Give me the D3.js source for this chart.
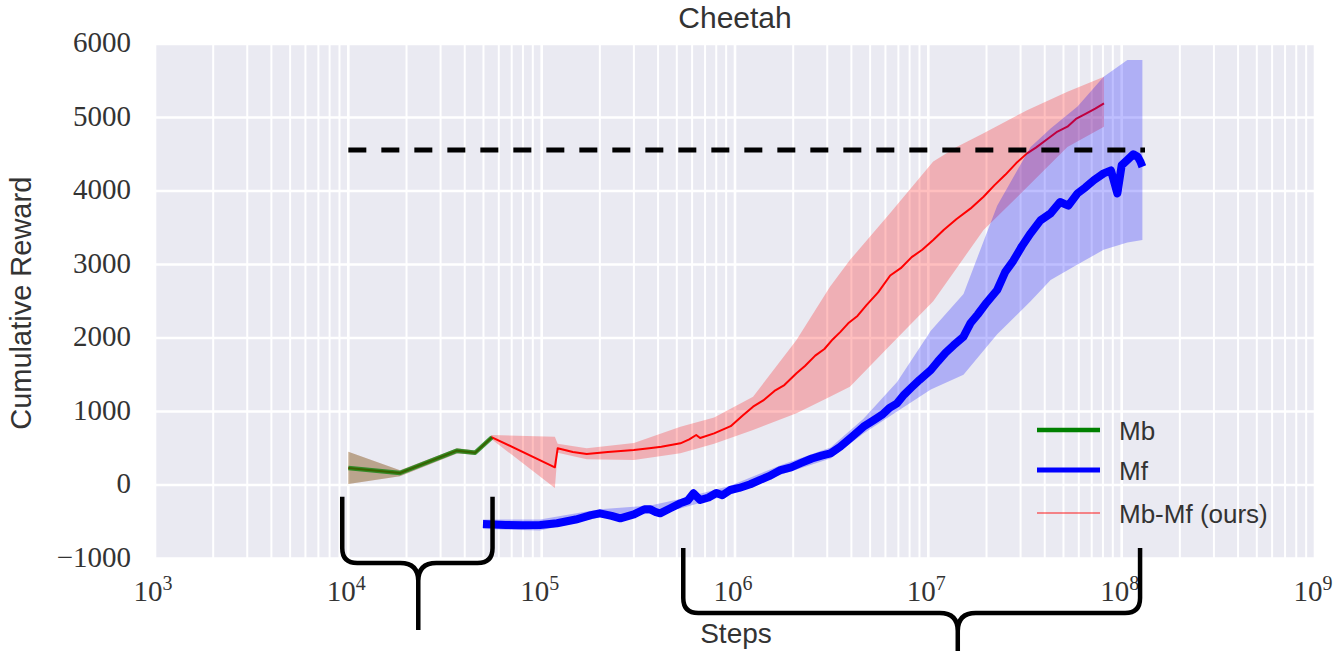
<!DOCTYPE html>
<html>
<head>
<meta charset="utf-8">
<script src="https://cdn.jsdelivr.net/npm/d3@7"></script>
<style>
  body { margin: 0; background: #fff; }
  svg { display: block; }
</style>
</head>
<body>
<div id="chart"></div>
<script>

// ---- data ----
const title = "Cheetah";
const xLabel = "Steps";
const yLabel = "Cumulative Reward";
const yTicks = [-1000, 0, 1000, 2000, 3000, 4000, 5000, 6000];
const xDecades = [3, 4, 5, 6, 7, 8, 9];
const targetReward = 4558;
const targetSpan = [1e4, 1.32e8];

// Mb : [steps, mean]
const mbMean = [[1e4,231],[1.85e4,163],[3.65e4,467],[4.53e4,440],[5.53e4,649]];
// Mb : [steps, low, high]
const mbBand = [[1e4,14,453],[1.85e4,120,200],[3.65e4,430,500],[4.53e4,410,470],[5.53e4,620,680]];

// Mf
const mfMean = [[4.97e4,-531],[6.5e4,-545],[8e4,-548],[9.8e4,-544],[1.2e5,-520],[1.5e5,-470],
  [1.8e5,-410],[2.0e5,-385],[2.3e5,-420],[2.55e5,-453],[3.0e5,-400],[3.4e5,-330],[3.65e5,-331],
  [3.9e5,-370],[4.1e5,-385],[4.6e5,-320],[5.2e5,-250],[5.7e5,-210],[6.1e5,-113],[6.6e5,-204],
  [7.3e5,-170],[8.0e5,-110],[8.6e5,-140],[9.45e5,-68],[1.05e6,-40],[1.2e6,10],[1.35e6,70],
  [1.5e6,120],[1.72e6,204],[1.95e6,240],[2.2e6,300],[2.5e6,360],[2.8e6,400],[3.12e6,431],
  [3.5e6,520],[4.0e6,650],[4.62e6,793],[5.2e6,880],[5.8e6,960],[6.3e6,1050],[6.89e6,1111],
  [7.5e6,1230],[8.2e6,1330],[9.0e6,1430],[1.03e7,1565],[1.12e7,1680],[1.23e7,1800],[1.35e7,1900],
  [1.52e7,2018],[1.65e7,2200],[1.8e7,2320],[2.0e7,2480],[2.27e7,2653],[2.5e7,2900],[2.75e7,3050],
  [3.05e7,3250],[3.38e7,3424],[3.8e7,3600],[4.29e7,3696],[4.8e7,3850],[5.3e7,3800],[5.91e7,3968],
  [6.5e7,4050],[7.2e7,4150],[8.07e7,4240],[8.8e7,4280],[9.5e7,3968],[1.0e8,4350],[1.07e8,4422],
  [1.15e8,4500],[1.21e8,4467],[1.25e8,4400],[1.28e8,4331]];
const mfBand = [[4.97e4,-600,-470],[9.8e4,-620,-470],[2.0e5,-440,-330],[3.65e5,-390,-280],
  [5.2e5,-320,-190],[9.45e5,-130,-10],[1.72e6,140,270],[3.12e6,360,510],[4.62e6,700,900],
  [6.89e6,1000,1400],[1.03e7,1300,2100],[1.52e7,1500,2600],[2.27e7,2050,3800],[3.38e7,2500,4600],
  [4.29e7,2789,4850],[5.91e7,3000,5150],[8.07e7,3200,5555],[1.07e8,3300,5782],[1.28e8,3333,5782]];

// Mb-Mf (ours)
const mbmfMean = [[1e4,231],[1.85e4,163],[3.65e4,467],[4.53e4,440],[5.53e4,649],[1.17e5,241],
  [1.21e5,499],[1.45e5,450],[1.71e5,422],[2.2e5,450],[3.0e5,476],[3.6e5,500],[4.16e5,521],
  [5.22e5,567],[5.8e5,620],[6.3e5,680],[6.6e5,640],[7.8e5,703],[9.5e5,800],[1.1e6,950],
  [1.24e6,1066],[1.4e6,1150],[1.6e6,1280],[1.8e6,1360],[2.08e6,1520],[2.3e6,1620],[2.6e6,1760],
  [2.9e6,1850],[3.2e6,1980],[3.5e6,2080],[3.85e6,2200],[4.3e6,2300],[4.8e6,2450],[5.5e6,2620],
  [6.35e6,2850],[7.2e6,2950],[8.2e6,3100],[9.3e6,3200],[1.06e7,3333],[1.2e7,3470],[1.4e7,3620],
  [1.65e7,3760],[1.93e7,3922],[2.2e7,4080],[2.5e7,4220],[2.85e7,4380],[3.24e7,4512],[3.6e7,4590],
  [4.1e7,4700],[4.6e7,4800],[5.24e7,4875],[5.8e7,4980],[6.5e7,5050],[7.3e7,5120],[8.1e7,5193]];
const mbmfBand = [[1e4,14,453],[1.85e4,120,200],[3.65e4,430,500],[4.53e4,410,470],[5.53e4,620,680],
  [1.17e5,-41,657],[1.21e5,440,560],[1.71e5,350,500],[3.0e5,340,571],[5.22e5,431,793],
  [7.8e5,560,920],[1.24e6,748,1201],[2.08e6,975,1973],[3.1e6,1200,2698],[3.93e6,1338,3061],
  [6.35e6,1900,3700],[1.06e7,2500,4400],[1.4e7,2950,4600],[1.93e7,3469,4785],[3.24e7,4050,5100],
  [5.24e7,4600,5350],[8.1e7,4875,5555]];

// braces under the axis: [left step, cusp step, right step, top, bar, tip] (reward units)
const braces = [
  [9.3e3, 2.3e4, 5.57e4, -160, -1061, -1973],
  [5.4e5, 1.42e7, 1.245e8, -857, -1741, -2300]
];

const legendItems = [
  { label: "Mb", color: "#008000", width: 4.5, opacity: 1 },
  { label: "Mf", color: "#0000ff", width: 5, opacity: 1 },
  { label: "Mb-Mf (ours)", color: "#ff0000", width: 1.5, opacity: 0.6 }
];

// ---- layout ----
const width = 1339, height = 651;
const plotLeft = 155, plotRight = 1315, plotTop = 44, plotBottom = 558.5;
const textColor = "#333";

const svg = d3.select("#chart").append("svg")
  .attr("width", width)
  .attr("height", height)
  .attr("viewBox", `0 0 ${width} ${height}`);

const x = d3.scaleLog().domain([1e3, 1e9]).range([plotLeft, plotRight]);
const y = d3.scaleLinear().domain([-1000, 6000]).range([plotBottom, plotTop]);

svg.append("rect")
  .attr("x", plotLeft).attr("y", plotTop)
  .attr("width", plotRight - plotLeft).attr("height", plotBottom - plotTop)
  .attr("fill", "#eaeaf2");

svg.append("clipPath").attr("id", "plot")
  .append("rect")
  .attr("x", plotLeft).attr("y", plotTop)
  .attr("width", plotRight - plotLeft).attr("height", plotBottom - plotTop);

// grid
const minor = [];
xDecades.slice(0, -1).forEach(function(e) {
  for (let k = 2; k < 10; k++) minor.push(k * Math.pow(10, e));
});
const grid = svg.append("g").attr("stroke", "#fff");
grid.selectAll("line.minor").data(minor).enter().append("line")
  .attr("class", "minor")
  .attr("x1", d => x(d)).attr("x2", d => x(d))
  .attr("y1", plotTop).attr("y2", plotBottom)
  .attr("stroke-width", 2);
grid.selectAll("line.major").data(xDecades).enter().append("line")
  .attr("class", "major")
  .attr("x1", d => x(Math.pow(10, d))).attr("x2", d => x(Math.pow(10, d)))
  .attr("y1", plotTop).attr("y2", plotBottom)
  .attr("stroke-width", 2.6);
grid.selectAll("line.h").data(yTicks).enter().append("line")
  .attr("class", "h")
  .attr("x1", plotLeft).attr("x2", plotRight)
  .attr("y1", d => y(d)).attr("y2", d => y(d))
  .attr("stroke-width", 2.6);

// tick labels
svg.append("g").selectAll("text").data(yTicks).enter().append("text")
  .attr("x", 131)
  .attr("y", d => y(d) - 2)
  .attr("dy", "0.35em")
  .attr("text-anchor", "end")
  .attr("font-family", "Liberation Serif, serif")
  .attr("font-size", 29)
  .attr("fill", textColor)
  .text(d => d < 0 ? "\u2212" + Math.abs(d) : d);

const xt = svg.append("g").selectAll("text").data(xDecades).enter().append("text")
  .attr("x", d => x(Math.pow(10, d)) - 2)
  .attr("y", 601)
  .attr("text-anchor", "middle")
  .attr("font-family", "Liberation Serif, serif")
  .attr("fill", textColor);
xt.append("tspan").attr("font-size", 29).text("10");
xt.append("tspan").attr("font-size", 20).attr("dy", -11).text(d => d);

// axis titles
svg.append("text")
  .attr("x", (plotLeft + plotRight) / 2).attr("y", 28)
  .attr("text-anchor", "middle")
  .attr("font-family", "Liberation Sans, sans-serif")
  .attr("font-size", 30)
  .attr("fill", textColor)
  .text(title);

svg.append("text")
  .attr("x", 736).attr("y", 643)
  .attr("text-anchor", "middle")
  .attr("font-family", "Liberation Sans, sans-serif")
  .attr("font-size", 28)
  .attr("fill", textColor)
  .text(xLabel);

svg.append("text")
  .attr("transform", "translate(31," + ((plotTop + plotBottom) / 2 + 2) + ") rotate(-90)")
  .attr("text-anchor", "middle")
  .attr("font-family", "Liberation Sans, sans-serif")
  .attr("font-size", 29)
  .attr("fill", textColor)
  .text(yLabel);

// series
const plot = svg.append("g").attr("clip-path", "url(#plot)");

const area = d3.area()
  .x(d => x(d[0])).y0(d => y(d[1])).y1(d => y(d[2]));
const line = d3.line()
  .x(d => x(d[0])).y(d => y(d[1]));

plot.append("path").datum(mbmfBand)
  .attr("d", area).attr("fill", "#ff0000").attr("fill-opacity", 0.25);
plot.append("path").datum(mbmfMean)
  .attr("d", line).attr("fill", "none")
  .attr("stroke", "#ff0000").attr("stroke-width", 2).attr("stroke-linejoin", "round");

plot.append("path").datum(mfBand)
  .attr("d", area).attr("fill", "#0000ff").attr("fill-opacity", 0.25);
plot.append("path").datum(mfMean)
  .attr("d", line).attr("fill", "none")
  .attr("stroke", "#0000ff").attr("stroke-width", 8).attr("stroke-linejoin", "round");

plot.append("path").datum(mbBand)
  .attr("d", area).attr("fill", "#008000").attr("fill-opacity", 0.22);
plot.append("path").datum(mbMean)
  .attr("d", line).attr("fill", "none")
  .attr("stroke", "#008000").attr("stroke-opacity", 0.72)
  .attr("stroke-width", 4.5).attr("stroke-linejoin", "round");

// target level
plot.append("line")
  .attr("x1", x(targetSpan[0])).attr("x2", x(targetSpan[1]))
  .attr("y1", y(targetReward)).attr("y2", y(targetReward))
  .attr("stroke", "#000").attr("stroke-width", 5)
  .attr("stroke-dasharray", "18,15");

// legend
const lg = svg.append("g");
legendItems.forEach(function(d, i) {
  const ly = [430, 470, 513][i];
  lg.append("line")
    .attr("x1", 1037).attr("x2", 1100).attr("y1", ly).attr("y2", ly)
    .attr("stroke", d.color).attr("stroke-width", d.width)
    .attr("stroke-opacity", d.opacity);
  lg.append("text")
    .attr("x", 1119).attr("y", ly + 10)
    .attr("font-family", "Liberation Sans, sans-serif")
    .attr("font-size", 26)
    .attr("fill", textColor)
    .text(d.label);
});

// braces
const bracePath = function(b) {
  const L = x(b[0]), M = x(b[1]), R = x(b[2]);
  const T = y(b[3]), H = y(b[4]), B = y(b[5]);
  const r = 15, c = 18;
  return "M" + L + "," + T + "L" + L + "," + (H - r) +
    "Q" + L + "," + H + " " + (L + r) + "," + H +
    "L" + (M - c) + "," + H +
    "Q" + M + "," + H + " " + M + "," + (H + c) +
    "L" + M + "," + B +
    "M" + R + "," + T + "L" + R + "," + (H - r) +
    "Q" + R + "," + H + " " + (R - r) + "," + H +
    "L" + (M + c) + "," + H +
    "Q" + M + "," + H + " " + M + "," + (H + c);
};
svg.append("g").selectAll("path").data(braces).enter().append("path")
  .attr("d", bracePath)
  .attr("fill", "none")
  .attr("stroke", "#000")
  .attr("stroke-width", 4.5)
  .attr("stroke-linejoin", "round");

</script>
</body>
</html>
